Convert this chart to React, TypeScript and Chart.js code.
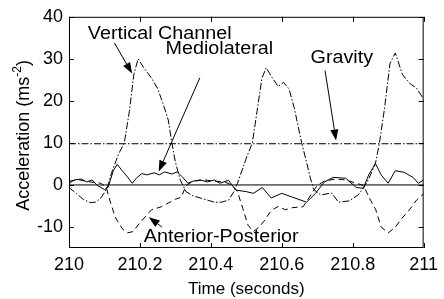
import React, { useEffect, useRef } from "react";
import { Chart, registerables } from "chart.js";

Chart.register(...registerables);

// ---- Data ----
const verticalTime = [210.00, 210.02, 210.04, 210.06, 210.075, 210.09, 210.10, 210.11, 210.12, 210.14, 210.156, 210.17, 210.183, 210.195, 210.21, 210.233, 210.25, 210.265, 210.28, 210.29, 210.30, 210.314, 210.33, 210.35, 210.37, 210.39, 210.41, 210.43, 210.45, 210.465, 210.475, 210.50, 210.517, 210.53, 210.544, 210.556, 210.57, 210.59, 210.605, 210.62, 210.635, 210.656, 210.67, 210.68, 210.69, 210.71, 210.74, 210.76, 210.79, 210.815, 210.83, 210.845, 210.864, 210.875, 210.89, 210.905, 210.92, 210.94, 210.96, 210.98, 211.0];
const verticalValues = [-0.6, -2, -3.4, -4.2, -4.1, -3.1, -1.8, -0.1, 2.9, 7.4, 10, 17.4, 26.4, 30, 28, 25.4, 22.9, 19.4, 15.4, 10, 5.4, 1.1, -1.6, -2.6, -3.1, -3.6, -4.1, -4.1, -3.6, -1.6, 0.4, 6.4, 10, 17.4, 25.4, 27.9, 25.9, 23.4, 24.4, 22.9, 18.4, 10, 5.4, 1.8, -1.1, -2.4, -1.9, -4.1, -3.8, -2.4, -0.8, 1.4, 5.1, 9.8, 18.4, 28.9, 31.4, 26.3, 24.2, 23, 20.4];

const mediolateralTime = [210.00, 210.015, 210.035, 210.05, 210.065, 210.08, 210.10, 210.11, 210.125, 210.136, 210.15, 210.165, 210.178, 210.19, 210.205, 210.22, 210.24, 210.255, 210.27, 210.29, 210.305, 210.32, 210.335, 210.35, 210.37, 210.39, 210.41, 210.425, 210.45, 210.47, 210.50, 210.52, 210.545, 210.57, 210.60, 210.63, 210.67, 210.695, 210.72, 210.745, 210.78, 210.81, 210.83, 210.845, 210.864, 210.88, 210.90, 210.92, 210.945, 210.97, 210.985, 211.0];
const mediolateralValues = [0.4, 1.2, 1.4, 0.7, 1.2, -0.1, -1.1, -0.6, 3.4, 4.9, 3.4, 1.9, 0.4, 1.6, 2.7, 2.4, 2.9, 2.4, 3.1, 2.6, 3.1, 1.9, 0.4, 0.9, 1.2, 0.7, 1.2, 0.4, 1.1, -1.2, -1.6, -2, -0.6, -3.1, -2, -2.9, -4.1, -2, 0.7, 1.8, 1.6, -0.6, -0.8, 2.4, 5.1, 2.4, 0.4, 3.4, 3, 1.8, 0.4, 1.2];

const apTime = [210.00, 210.03, 210.06, 210.09, 210.105, 210.115, 210.13, 210.15, 210.165, 210.18, 210.20, 210.22, 210.233, 210.26, 210.28, 210.30, 210.317, 210.33, 210.35, 210.38, 210.41, 210.44, 210.46, 210.475, 210.49, 210.505, 210.52, 210.535, 210.55, 210.57, 210.59, 210.61, 210.63, 210.66, 210.68, 210.70, 210.72, 210.75, 210.78, 210.81, 210.83, 210.85, 210.865, 210.88, 210.90, 210.92, 210.935, 210.96, 210.98, 211.0];
const apValues = [0.9, 1.2, 0.7, 0.4, -0.6, -3.6, -7.6, -10.4, -11.4, -11.1, -9, -7.1, -5.9, -5.2, -4.3, -3.4, -2.9, -0.1, 0.9, 1.2, 0.9, 0.7, -0.1, -1.6, -5.6, -9.6, -11.1, -10.1, -8.6, -6.1, -5.1, -5.9, -5.4, -5.2, -2.6, -0.1, 0.9, 1.4, 1.2, 0.4, -0.1, -3.6, -5.9, -10, -11.4, -10.1, -8.3, -5.9, -3.6, -2.1];

const gravityValue = 9.8;
const zeroValue = 0;
const timeRange = [210, 211];
const accelRange = [-15, 40];

const xTickValues = [210, 210.2, 210.4, 210.6, 210.8, 211];
const yTickValues = [-10, 0, 10, 20, 30, 40];

const xTitle = "Time (seconds)";
const yTitleMain = "Acceleration (ms";
const yTitleSup = "-2";
const yTitleEnd = ")";

// annotation labels: [text, time, accel (baseline)]
const labelTexts = ["Vertical Channel", "Mediolateral", "Gravity", "Anterior-Posterior"];
const labelTimes = [210.053, 210.272, 210.681, 210.211];
const labelAccels = [34.8, 31.2, 28.9, -13.6];
// arrows: from (t0,a0) to tip (t1,a1)
const arrowFromTimes = [210.128, 210.369, 210.722, 210.262];
const arrowFromAccels = [33.8, 25.5, 27.2, -10.0];
const arrowToTimes = [210.178, 210.253, 210.753, 210.225];
const arrowToAccels = [26.5, 3.2, 10.6, -7.7];

const FONT = "'Liberation Sans', Arial, Helvetica, sans-serif";

const toPoints = (xs: number[], ys: number[]) => xs.map((x, i) => ({ x, y: ys[i] }));

const decorPlugin = {
  id: "decor",
  afterDatasetsDraw(chart: any) {
    const { ctx, chartArea: a, scales } = chart;
    const xs = scales.x;
    const ys = scales.y;
    ctx.save();
    ctx.strokeStyle = "#000";
    ctx.fillStyle = "#000";
    ctx.lineWidth = 1;
    ctx.setLineDash([]);
    // frame
    ctx.strokeRect(a.left + 0.5, a.top + 0.5, a.right - a.left - 1, a.bottom - a.top - 1);
    // inward ticks
    const tl = 5;
    ctx.beginPath();
    for (const v of yTickValues) {
      const py = Math.round(ys.getPixelForValue(v)) + 0.5;
      ctx.moveTo(a.left, py); ctx.lineTo(a.left + tl, py);
      ctx.moveTo(a.right, py); ctx.lineTo(a.right - tl, py);
    }
    for (const v of xTickValues) {
      const px = Math.round(xs.getPixelForValue(v)) + 0.5;
      ctx.moveTo(px, a.bottom); ctx.lineTo(px, a.bottom - tl);
      ctx.moveTo(px, a.top); ctx.lineTo(px, a.top + tl);
    }
    ctx.stroke();

    // annotation labels
    ctx.font = `19px ${FONT}`;
    ctx.textAlign = "left";
    ctx.textBaseline = "alphabetic";
    labelTexts.forEach((t, i) => {
      const px = xs.getPixelForValue(labelTimes[i]);
      const py = ys.getPixelForValue(labelAccels[i]);
      ctx.save();
      ctx.translate(px, py);
      ctx.scale(1.04, 0.92);
      ctx.fillText(t, 0, 0);
      ctx.restore();
    });

    // arrows
    arrowFromTimes.forEach((_, i) => {
      const x0 = xs.getPixelForValue(arrowFromTimes[i]);
      const y0 = ys.getPixelForValue(arrowFromAccels[i]);
      const x1 = xs.getPixelForValue(arrowToTimes[i]);
      const y1 = ys.getPixelForValue(arrowToAccels[i]);
      const ang = Math.atan2(y1 - y0, x1 - x0);
      const hl = 11, hw = 4;
      const bx = x1 - hl * Math.cos(ang);
      const by = y1 - hl * Math.sin(ang);
      ctx.beginPath();
      ctx.moveTo(x0, y0);
      ctx.lineTo(bx, by);
      ctx.stroke();
      ctx.beginPath();
      ctx.moveTo(x1, y1);
      ctx.lineTo(bx + hw * Math.sin(ang), by - hw * Math.cos(ang));
      ctx.lineTo(bx - hw * Math.sin(ang), by + hw * Math.cos(ang));
      ctx.closePath();
      ctx.fill();
    });

    // x title
    ctx.font = `17px ${FONT}`;
    ctx.textAlign = "center";
    ctx.fillText(xTitle, (a.left + a.right) / 2, 294);

    // y title (rotated) with superscript
    const mainFont = `18px ${FONT}`;
    const supFont = `12px ${FONT}`;
    ctx.font = mainFont;
    const w1 = ctx.measureText(yTitleMain).width;
    const w3 = ctx.measureText(yTitleEnd).width;
    ctx.font = supFont;
    const w2 = ctx.measureText(yTitleSup).width;
    const total = w1 + w2 + w3;
    ctx.save();
    ctx.translate(29, (a.top + a.bottom) / 2 + 3);
    ctx.rotate(-Math.PI / 2);
    ctx.textAlign = "left";
    let cx = -total / 2;
    ctx.font = mainFont;
    ctx.fillText(yTitleMain, cx, 0);
    cx += w1;
    ctx.font = supFont;
    ctx.fillText(yTitleSup, cx, -8);
    cx += w2;
    ctx.font = mainFont;
    ctx.fillText(yTitleEnd, cx, 0);
    ctx.restore();

    ctx.restore();
  },
};

export default function App() {
  const canvasRef = useRef<HTMLCanvasElement | null>(null);

  useEffect(() => {
    if (!canvasRef.current) return;
    const chart = new Chart(canvasRef.current, {
      type: "line",
      data: {
        datasets: [
          {
            label: "Zero",
            data: toPoints(timeRange, [zeroValue, zeroValue]),
            borderColor: "#000",
            borderWidth: 1,
          },
          {
            label: "Gravity",
            data: toPoints(timeRange, [gravityValue, gravityValue]),
            borderColor: "#000",
            borderWidth: 1,
            borderDash: [7, 2, 1.5, 2],
          },
          {
            label: "Vertical Channel",
            data: toPoints(verticalTime, verticalValues),
            borderColor: "#000",
            borderWidth: 1,
            borderDash: [7, 2, 1.5, 2],
          },
          {
            label: "Anterior-Posterior",
            data: toPoints(apTime, apValues),
            borderColor: "#000",
            borderWidth: 1,
            borderDash: [6, 4],
          },
          {
            label: "Mediolateral",
            data: toPoints(mediolateralTime, mediolateralValues),
            borderColor: "#000",
            borderWidth: 1,
          },
        ],
      },
      options: {
        animation: false,
        responsive: false,
        devicePixelRatio: 1,
        layout: { padding: { top: 16, right: 15, left: 0, bottom: 0 } },
        elements: { point: { radius: 0 }, line: { tension: 0 } },
        plugins: { legend: { display: false }, tooltip: { enabled: false }, title: { display: false } },
        scales: {
          x: {
            type: "linear",
            min: timeRange[0],
            max: timeRange[1],
            grid: { display: false, drawTicks: false },
            border: { display: false },
            ticks: {
              color: "#000",
              font: { family: FONT, size: 18 },
              padding: 6,
              maxRotation: 0,
              autoSkip: false,
              callback: (v: any) => String(Number(Number(v).toFixed(1))),
            },
            afterBuildTicks: (s: any) => {
              s.ticks = xTickValues.map((value) => ({ value }));
            },
            afterFit: (s: any) => {
              s.height = 51;
            },
          },
          y: {
            type: "linear",
            min: accelRange[0],
            max: accelRange[1],
            grid: { display: false, drawTicks: false },
            border: { display: false },
            ticks: {
              color: "#000",
              font: { family: FONT, size: 18 },
              padding: 6,
              autoSkip: false,
              callback: (v: any) => String(v),
            },
            afterBuildTicks: (s: any) => {
              s.ticks = yTickValues.map((value) => ({ value }));
            },
            afterFit: (s: any) => {
              s.width = 69;
            },
          },
        },
      },
      plugins: [decorPlugin],
    });
    return () => chart.destroy();
  }, []);

  return (
    <div style={{ position: "fixed", left: 0, top: 0, width: 444, height: 299, background: "#fff" }}>
      <canvas ref={canvasRef} width={444} height={299} style={{ width: 444, height: 299, display: "block" }} />
    </div>
  );
}
